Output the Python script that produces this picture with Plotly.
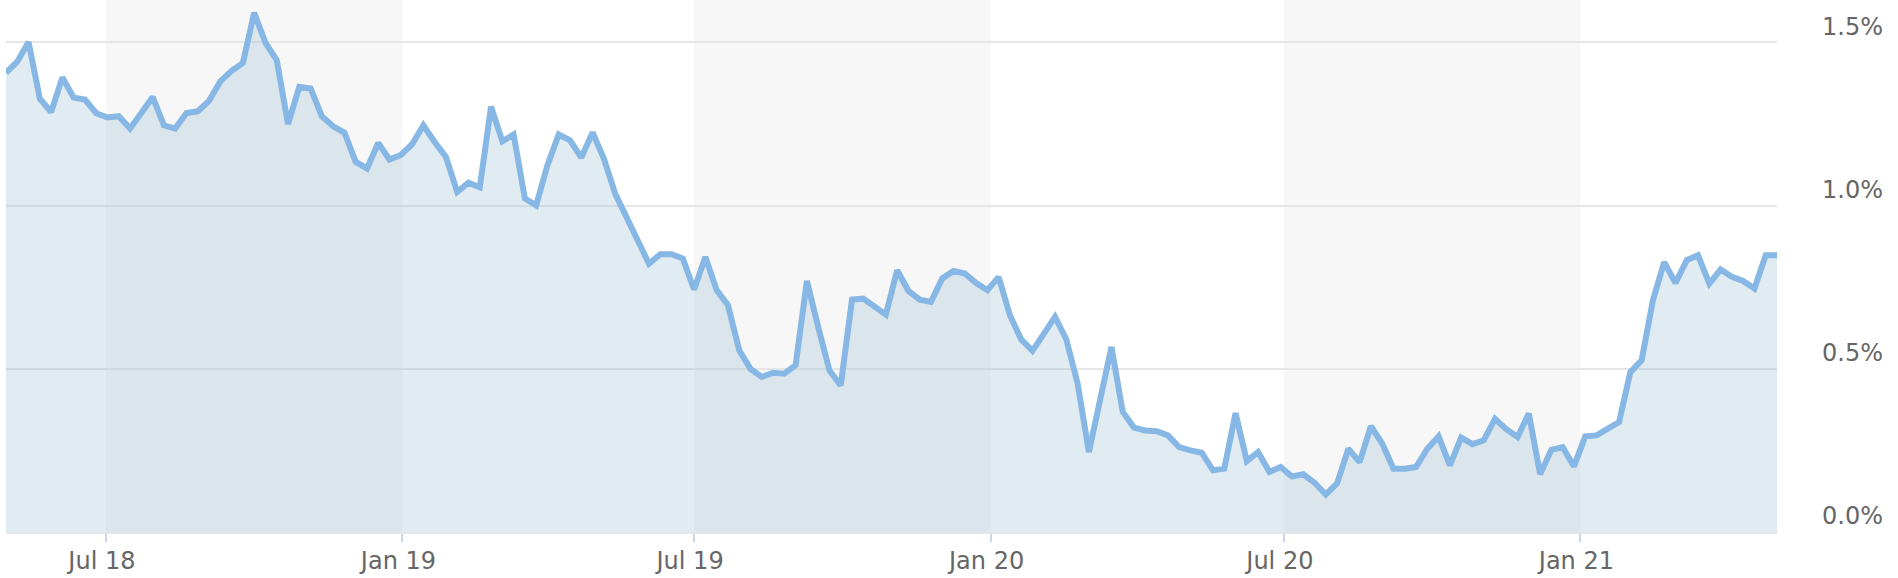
import pandas as pd
import plotly.graph_objects as go

# Weekly observations (first week of May 2018 to first week of May 2021)
start_date = "2018-04-30"
n_weeks = 158
dates = pd.date_range(start_date, periods=n_weeks, freq="7D")

values = [
    1.407, 1.441, 1.501, 1.328, 1.287, 1.393, 1.331, 1.325, 1.283, 1.270,
    1.274, 1.236, 1.284, 1.333, 1.246, 1.236, 1.284, 1.289, 1.321, 1.381,
    1.413, 1.437, 1.591, 1.499, 1.446, 1.250, 1.364, 1.359, 1.274, 1.243,
    1.224, 1.134, 1.114, 1.192, 1.141, 1.155, 1.188, 1.246, 1.195, 1.149,
    1.042, 1.070, 1.056, 1.303, 1.197, 1.218, 1.022, 1.001, 1.124, 1.218,
    1.200, 1.147, 1.224, 1.144, 1.037, 0.965, 0.896, 0.822, 0.851, 0.851,
    0.838, 0.743, 0.843, 0.741, 0.695, 0.557, 0.500, 0.475, 0.488, 0.485,
    0.511, 0.769, 0.628, 0.495, 0.449, 0.712, 0.715, 0.689, 0.666, 0.802,
    0.739, 0.712, 0.705, 0.777, 0.800, 0.792, 0.763, 0.741, 0.781, 0.664,
    0.590, 0.555, 0.608, 0.659, 0.590, 0.455, 0.245, 0.414, 0.567, 0.368,
    0.320, 0.311, 0.309, 0.296, 0.260, 0.250, 0.243, 0.189, 0.194, 0.364,
    0.217, 0.245, 0.184, 0.199, 0.170, 0.177, 0.151, 0.115, 0.149, 0.255,
    0.214, 0.324, 0.271, 0.194, 0.194, 0.199, 0.255, 0.293, 0.204, 0.289,
    0.269, 0.281, 0.347, 0.315, 0.291, 0.363, 0.177, 0.252, 0.260, 0.201,
    0.293, 0.296, 0.317, 0.337, 0.490, 0.526, 0.710, 0.827, 0.763, 0.833,
    0.848, 0.761, 0.804, 0.782, 0.769, 0.746, 0.848, 0.848,
]

tick_dates = ["2018-07-01", "2019-01-01", "2019-07-01", "2020-01-01", "2020-07-01", "2021-01-01"]
tick_labels = ["Jul 18", "Jan 19", "Jul 19", "Jan 20", "Jul 20", "Jan 21"]
band_starts = ["2018-07-01", "2019-07-01", "2020-07-01"]
band_ends = ["2019-01-01", "2020-01-01", "2021-01-01"]
y_ticks = [0.0, 0.5, 1.0, 1.5]
y_tick_labels = ["0.0%", "0.5%", "1.0%", "1.5%"]

fig = go.Figure()
fig.add_trace(go.Scatter(
    x=dates, y=values, mode="lines",
    line=dict(color="#87b7e5", width=6, shape="linear"),
    fill="tozeroy", fillcolor="rgba(135,175,203,0.25)",
    hoverinfo="skip",
))

shapes = []
for s, e in zip(band_starts, band_ends):
    shapes.append(dict(type="rect", xref="x", yref="paper", x0=s, x1=e, y0=0, y1=1,
                       fillcolor="#f7f7f7", line=dict(width=0), layer="below"))

fig.update_layout(
    width=1898, height=578,
    margin=dict(l=6, r=121, t=0, b=46, autoexpand=False),
    paper_bgcolor="white", plot_bgcolor="white",
    showlegend=False,
    shapes=shapes,
    font=dict(family="DejaVu Sans", size=24, color="#666666"),
    xaxis=dict(
        range=[dates[0], dates[-1]],
        tickvals=tick_dates, ticktext=tick_labels,
        showgrid=False, zeroline=False, automargin=False,
        ticks="outside", ticklen=8, tickwidth=2, tickcolor="#ccd6eb",
        showline=True, linecolor="#e6e6e6", linewidth=2,
        ticklabelstandoff=-2, ticklabelshift=-4,
        tickfont=dict(size=24, color="#666666"),
    ),
    yaxis=dict(
        range=[0, 1.63], side="right", automargin=False,
        tickvals=y_ticks, ticktext=y_tick_labels,
        showgrid=True, gridcolor="#e6e6e6", gridwidth=2,
        zeroline=False, ticks="", showline=False,
        ticklabelshift=-16, ticklabelstandoff=44,
        tickfont=dict(size=24, color="#666666"),
    ),
)

fig.write_html(
    "out.html",
    config={"displayModeBar": False},
    post_script="document.body.style.margin='0';document.body.style.overflow='hidden';",
)
